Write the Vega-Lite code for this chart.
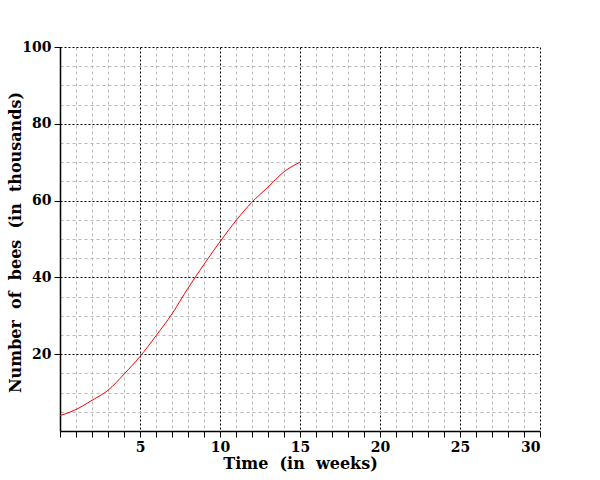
{
  "$schema": "https://vega.github.io/schema/vega-lite/v6.json",
  "width": 480,
  "height": 384,
  "autosize": "none",
  "padding": {"left": 60, "top": 47, "right": 60, "bottom": 49},
  "background": "white",
  "config": {
    "view": {"stroke": null},
    "axis": {
      "labelFont": "DejaVu Serif",
      "labelFontWeight": "bold",
      "labelFontSize": 14,
      "labelColor": "black",
      "titleFont": "DejaVu Serif",
      "titleFontWeight": "bold",
      "titleFontSize": 16,
      "titleColor": "black"
    }
  },
  "data": {
    "values": [
      {"t": 0, "bees": 4.0},
      {"t": 1, "bees": 5.6},
      {"t": 2, "bees": 8.0},
      {"t": 3, "bees": 10.6},
      {"t": 4, "bees": 14.8},
      {"t": 5, "bees": 19.4},
      {"t": 6, "bees": 24.8},
      {"t": 7, "bees": 30.5},
      {"t": 8, "bees": 37.2},
      {"t": 9, "bees": 43.4},
      {"t": 10, "bees": 49.3},
      {"t": 11, "bees": 54.8},
      {"t": 12, "bees": 59.6},
      {"t": 13, "bees": 63.5},
      {"t": 14, "bees": 67.5},
      {"t": 15, "bees": 70.0}
    ]
  },
  "resolve": {"axis": {"x": "independent", "y": "independent"}},
  "layer": [
    {
      "mark": {"type": "line", "opacity": 0},
      "encoding": {
        "x": {
          "field": "t", "type": "quantitative",
          "scale": {"domain": [0, 30], "nice": false, "zero": false},
          "axis": {
            "orient": "bottom",
            "values": [0,1,2,3,4,6,7,8,9,11,12,13,14,16,17,18,19,21,22,23,24,26,27,28,29],
            "grid": true, "gridColor": "#b8b8b8", "gridDash": [3, 3], "gridWidth": 1,
            "ticks": true, "tickColor": "black", "tickSize": 6, "tickWidth": 1,
            "labels": false, "domain": false, "title": null
          }
        },
        "y": {
          "field": "bees", "type": "quantitative",
          "scale": {"domain": [0, 100], "nice": false},
          "axis": {
            "orient": "left",
            "values": [5,10,15,25,30,35,45,50,55,65,70,75,85,90,95],
            "grid": true, "gridColor": "#b8b8b8", "gridDash": [3, 3], "gridWidth": 1,
            "ticks": false, "labels": false, "domain": false, "title": null
          }
        }
      }
    },
    {
      "mark": {"type": "line", "color": "red", "strokeWidth": 1, "interpolate": "monotone"},
      "encoding": {
        "x": {
          "field": "t", "type": "quantitative",
          "scale": {"domain": [0, 30], "nice": false, "zero": false},
          "axis": {
            "orient": "bottom",
            "values": [5, 10, 15, 20, 25, 30],
            "grid": true, "gridColor": "black", "gridDash": [2, 2], "gridWidth": 1,
            "ticks": true, "tickColor": "black", "tickSize": 6, "tickWidth": 1,
            "domain": true, "domainColor": "black", "domainWidth": 1.5,
            "labelPadding": 3,
            "title": "Time\u00a0 (in\u00a0 weeks)",
            "titleX": 240, "titleY": 37, "titleBaseline": "alphabetic", "titleAnchor": "middle"
          }
        },
        "y": {
          "field": "bees", "type": "quantitative",
          "scale": {"domain": [0, 100], "nice": false},
          "axis": {
            "orient": "left",
            "values": [20, 40, 60, 80, 100],
            "grid": true, "gridColor": "black", "gridDash": [2, 2], "gridWidth": 1,
            "ticks": true, "tickColor": "black", "tickSize": 6, "tickWidth": 1,
            "domain": true, "domainColor": "black", "domainWidth": 1.5,
            "labelPadding": 3,
            "title": "Number\u00a0 of\u00a0 bees\u00a0 (in\u00a0 thousands)",
            "titleX": -37, "titleY": 195, "titleBaseline": "bottom", "titleAnchor": "middle", "titleAngle": -90
          }
        }
      }
    }
  ]
}
